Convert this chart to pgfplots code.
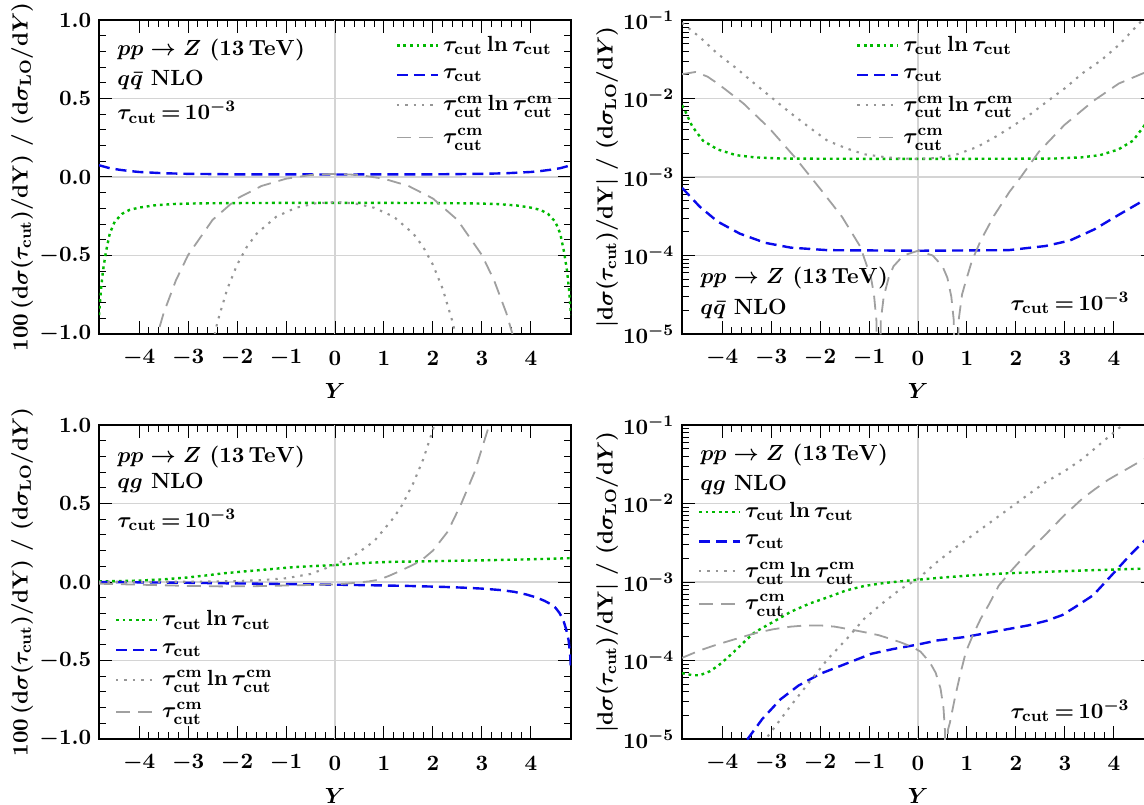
\documentclass[border=0pt]{standalone}
\usepackage{pgfplots}
\pgfplotsset{compat=1.18}
\definecolor{cgreen}{RGB}{0,185,0}
\definecolor{cblue}{RGB}{10,10,235}
\definecolor{cgdot}{RGB}{150,150,150}
\definecolor{cgdash}{RGB}{160,160,160}
\newcommand{\tc}{\tau_{\mathrm{cut}}}
\newcommand{\tcm}{\tau^{\mathrm{cm}}_{\mathrm{cut}}}

\pgfplotsset{
  panel/.style={
    scale only axis, width=236pt, height=157pt,
    xmin=-4.82, xmax=4.82,
    xtick={-4,-3,-2,-1,0,1,2,3,4}, minor x tick num=4,
    major tick length=6.5pt, minor tick length=3.5pt,
    every tick/.style={black, line width=0.5pt},
    axis line style={line width=0.6pt},
    ymajorgrids, major grid style={black!17, line width=0.6pt},
    extra x ticks={0}, extra x tick labels={}, extra x tick style={grid=major},
    xticklabel style={anchor=center, yshift=-12pt},
    xlabel={$Y$},
    xlabel style={at={(axis description cs:0.5,-0.182)}, anchor=center},
    legend style={draw=none, fill=none, row sep=3pt},
    legend cell align=left,
    legend image code/.code={\draw[##1] (0cm,0cm) -- (0.72cm,0cm);},
  },
  linpanel/.style={panel,
    ymin=-1, ymax=1, ytick={-1,-0.5,0,0.5,1}, minor y tick num=4,
    yticklabel style={/pgf/number format/fixed, /pgf/number format/fixed zerofill, /pgf/number format/precision=1},
    ylabel={$100\,(\mathrm{d}\sigma(\tc)/\mathrm{dY})\ /\ (\mathrm{d}\sigma_{\mathrm{LO}}/\mathrm{d}Y)$},
    ylabel style={at={(axis description cs:-0.163,0.5)}, anchor=center},
  },
  logpanel/.style={panel,
    ymin=1e-5, ymax=1e-1, ytick={1e-5,1e-4,1e-3,1e-2,1e-1},
    ylabel={$\bigl|\mathrm{d}\sigma(\tc)/\mathrm{dY}\bigr|\ /\ (\mathrm{d}\sigma_{\mathrm{LO}}/\mathrm{d}Y)$},
    ylabel style={at={(axis description cs:-0.159,0.5)}, anchor=center},
  },
  sgreen/.style={cgreen, line width=1.2pt, dash pattern=on 1.4pt off 1.9pt},
  sblue/.style={cblue, line width=1.2pt, dash pattern=on 5.5pt off 3pt},
  sgdot/.style={cgdot, line width=1.05pt, dash pattern=on 1.2pt off 3pt},
  sgdash/.style={cgdash, line width=0.9pt, dash pattern=on 7pt off 4pt},
}

\begin{document}
\fontsize{11}{13}\selectfont\boldmath\bfseries
\begin{tikzpicture}
\useasboundingbox (0,0) rectangle (572pt,402pt);

% ---------- top left: q qbar, linear
\begin{axis}[linpanel, at={(49.5pt,235pt)}, anchor=south west,
  legend style={at={(axis description cs:0.615,0.975)}, anchor=north west}]
\addplot[sgreen] coordinates {(-4.82,-0.88) (-4.78,-0.72) (-4.74,-0.6) (-4.68,-0.48) (-4.6,-0.36) (-4.5,-0.285) (-4.35,-0.235) (-4.2,-0.21) (-4.0,-0.195) (-3.7,-0.181) (-3.3,-0.172) (-2.8,-0.168) (-2,-0.166) (-1,-0.165) (0,-0.165) (1,-0.165) (2,-0.166) (2.8,-0.168) (3.3,-0.172) (3.7,-0.181) (4.0,-0.195) (4.2,-0.21) (4.35,-0.235) (4.5,-0.285) (4.6,-0.36) (4.68,-0.48) (4.74,-0.6) (4.78,-0.72) (4.82,-0.88)};
\addplot[sblue] coordinates {(-4.82,0.075) (-4.6,0.056) (-4.4,0.046) (-4.2,0.038) (-4.0,0.032) (-3.5,0.024) (-3.0,0.02) (-2.0,0.017) (0,0.016) (2.0,0.017) (3.0,0.02) (3.5,0.024) (4.0,0.032) (4.2,0.038) (4.4,0.046) (4.6,0.056) (4.82,0.075)};
\addplot[sgdot] coordinates {(-2.8,-1.583) (-2.6,-1.203) (-2.4,-0.922) (-2.2,-0.713) (-2.0,-0.559) (-1.8,-0.445) (-1.6,-0.361) (-1.2,-0.253) (-0.8,-0.196) (-0.4,-0.168) (0,-0.16) (0.4,-0.168) (0.8,-0.196) (1.2,-0.253) (1.6,-0.361) (1.8,-0.445) (2.0,-0.559) (2.2,-0.713) (2.4,-0.922) (2.6,-1.203) (2.8,-1.583)};
\addplot[sgdash] coordinates {(-4.0,-1.5) (-3.75,-1.135) (-3.5,-0.867) (-3.25,-0.659) (-3.0,-0.497) (-2.5,-0.273) (-2.0,-0.137) (-1.5,-0.057) (-1.0,-0.011) (-0.5,0.0127) (0,0.02) (0.5,0.0127) (1.0,-0.011) (1.5,-0.057) (2.0,-0.137) (2.5,-0.273) (3.0,-0.497) (3.25,-0.659) (3.5,-0.867) (3.75,-1.135) (4.0,-1.5)};
\legend{$\tc\ln\tc$, $\tc$, $\tcm\ln\tcm$, $\tcm$}
\node[anchor=west, inner sep=0pt] at (rel axis cs:0.038,0.904) {$pp\to Z\ (13\,\mathrm{TeV})$};
\node[anchor=west, inner sep=0pt] at (rel axis cs:0.038,0.808) {$q\bar{q}$ NLO};
\node[anchor=west, inner sep=0pt] at (rel axis cs:0.038,0.706) {$\tc\,{=}\,10^{-3}$};
\end{axis}

% ---------- top right: q qbar, log
\begin{semilogyaxis}[logpanel, at={(341pt,235pt)}, anchor=south west,
  legend style={at={(axis description cs:0.355,0.975)}, anchor=north west}]
\addplot[sgreen] coordinates {(-4.82,8.2e-3) (-4.75,6.8e-3) (-4.61,4.4e-3) (-4.39,2.9e-3) (-4.09,2.24e-3) (-3.72,1.9e-3) (-3.34,1.78e-3) (-2.8,1.72e-3) (-2,1.71e-3) (0,1.7e-3) (2,1.71e-3) (2.8,1.72e-3) (3.34,1.78e-3) (3.72,1.9e-3) (4.09,2.24e-3) (4.39,2.9e-3) (4.61,4.4e-3) (4.75,6.8e-3) (4.82,8.2e-3)};
\addplot[sblue] coordinates {(-4.82,7.3e-4) (-4.46,4.2e-4) (-4.09,2.7e-4) (-3.64,1.9e-4) (-3.12,1.45e-4) (-2.6,1.26e-4) (-1.85,1.17e-4) (0,1.15e-4) (1.85,1.17e-4) (2.6,1.32e-4) (3.1,1.55e-4) (3.6,2.15e-4) (4.1,3.3e-4) (4.6,5.0e-4) (4.82,6.2e-4)};
\addplot[sgdot] coordinates {(-4.82,0.092) (-4.45,0.06) (-4.09,0.037) (-3.7,0.024) (-3.34,0.0155) (-2.95,0.0098) (-2.6,6.5e-3) (-2.2,4.2e-3) (-1.85,2.9e-3) (-1.45,2.3e-3) (-1.1,1.95e-3) (-0.7,1.8e-3) (-0.36,1.72e-3) (0,1.7e-3) (0.4,1.75e-3) (0.8,1.95e-3) (1.2,2.4e-3) (1.6,3.3e-3) (1.87,4.2e-3) (2.25,6e-3) (2.62,9e-3) (3.0,0.0135) (3.36,0.021) (3.75,0.031) (4.1,0.048) (4.55,0.095) (4.82,0.14)};
\addplot[sgdash] coordinates {(-4.82,0.0204) (-4.54,0.0218) (-4.3,0.019) (-4.09,0.0155) (-3.57,8.7e-3) (-3.04,4.2e-3) (-2.52,1.8e-3) (-2.0,7.1e-4) (-1.55,3.1e-4) (-1.18,1.3e-4) (-0.96,5.2e-5) (-0.9,3.2e-5) (-0.85,1.5e-5) (-0.81,1e-7) (-0.76,1.5e-5) (-0.7,3e-5) (-0.6,5.2e-5) (-0.5,7.3e-5) (-0.3,1.0e-4) (0,1.15e-4) (0.3,1.0e-4) (0.5,7.3e-5) (0.6,5.2e-5) (0.68,3e-5) (0.73,1.5e-5) (0.78,1e-7) (0.83,1.5e-5) (0.9,3.2e-5) (0.98,4.8e-5) (1.1,8.5e-5) (1.28,1.55e-4) (1.55,3.2e-4) (1.87,6.5e-4) (2.1,1.0e-3) (2.47,2.1e-3) (2.99,4.6e-3) (3.58,9.3e-3) (4.1,0.0155) (4.6,0.021) (4.82,0.0225)};
\legend{$\tc\ln\tc$, $\tc$, $\tcm\ln\tcm$, $\tcm$}
\node[anchor=west, inner sep=0pt] at (rel axis cs:0.038,0.179) {$pp\to Z\ (13\,\mathrm{TeV})$};
\node[anchor=west, inner sep=0pt] at (rel axis cs:0.038,0.08) {$q\bar{q}$ NLO};
\node[anchor=east, inner sep=0pt] at (rel axis cs:0.949,0.1) {$\tc\,{=}\,10^{-3}$};
\end{semilogyaxis}

% ---------- bottom left: qg, linear
\begin{axis}[linpanel, at={(49.5pt,32.5pt)}, anchor=south west,
  legend style={at={(axis description cs:0.02,0.03)}, anchor=south west}]
\addplot[sgreen] coordinates {(-4.82,0.004) (-4.4,0.006) (-4.0,0.009) (-3.5,0.017) (-3.04,0.028) (-2.6,0.043) (-2.29,0.055) (-1.9,0.066) (-1.53,0.076) (-1.1,0.088) (-0.78,0.096) (-0.4,0.102) (0,0.108) (0.4,0.117) (0.73,0.123) (1.1,0.128) (1.49,0.13) (2.24,0.134) (3,0.138) (3.75,0.143) (4.3,0.147) (4.82,0.152)};
\addplot[sblue] coordinates {(-4.82,0.0) (-4,-0.002) (-3,-0.005) (-2.29,-0.008) (-1,-0.013) (0,-0.017) (0.8,-0.021) (1.49,-0.025) (2.2,-0.031) (2.62,-0.036) (3.0,-0.042) (3.37,-0.051) (3.65,-0.062) (3.9,-0.079) (4.1,-0.097) (4.28,-0.12) (4.4,-0.14) (4.5,-0.163) (4.58,-0.195) (4.66,-0.24) (4.72,-0.3) (4.77,-0.37) (4.8,-0.45) (4.82,-0.56)};
\addplot[sgdot] coordinates {(-4.82,0.0002) (-4,0.0006) (-3.5,0.0012) (-3.0,0.002) (-2.5,0.0035) (-2.0,0.0062) (-1.5,0.012) (-1.0,0.024) (-0.5,0.051) (0,0.11) (0.4,0.17) (0.8,0.26) (1.2,0.41) (1.37,0.49) (1.6,0.63) (1.8,0.78) (2.0,0.97) (2.2,1.22)};
\addplot[sgdash] coordinates {(-4.82,-0.011) (-4.4,-0.014) (-4,-0.017) (-3.5,-0.021) (-3,-0.025) (-2.3,-0.028) (-1.7,-0.027) (-1.1,-0.023) (-0.5,-0.019) (0,-0.015) (0.25,-0.0095) (0.45,-0.0045) (0.57,0) (0.7,0.004) (0.9,0.015) (1.11,0.04) (1.4,0.08) (1.75,0.134) (2.0,0.2) (2.3,0.32) (2.58,0.5) (2.85,0.7) (3.15,1.0) (3.4,1.35)};
\legend{$\tc\ln\tc$, $\tc$, $\tcm\ln\tcm$, $\tcm$}
\node[anchor=west, inner sep=0pt] at (rel axis cs:0.038,0.898) {$pp\to Z\ (13\,\mathrm{TeV})$};
\node[anchor=west, inner sep=0pt] at (rel axis cs:0.038,0.815) {$qg$ NLO};
\node[anchor=west, inner sep=0pt] at (rel axis cs:0.038,0.698) {$\tc\,{=}\,10^{-3}$};
\end{axis}

% ---------- bottom right: qg, log
\begin{semilogyaxis}[logpanel, at={(341pt,32.5pt)}, anchor=south west,
  legend style={at={(axis description cs:0.02,0.78)}, anchor=north west}]
\addplot[sgreen] coordinates {(-4.82,6.9e-5) (-4.6,6.5e-5) (-4.45,6.5e-5) (-4.25,7.3e-5) (-4.07,8.7e-5) (-3.88,1.1e-4) (-3.70,1.4e-4) (-3.5,1.85e-4) (-3.33,2.3e-4) (-2.96,3.1e-4) (-2.59,4.2e-4) (-2.22,5.3e-4) (-1.84,6.4e-4) (-1.47,7.8e-4) (-1.1,8.9e-4) (-0.7,9.7e-4) (-0.36,1.02e-3) (0,1.07e-3) (0.5,1.14e-3) (1.13,1.22e-3) (1.8,1.29e-3) (2.62,1.35e-3) (3.5,1.41e-3) (4.6,1.48e-3) (4.82,1.5e-3)};
\addplot[sblue] coordinates {(-4.82,2e-6) (-4.2,4e-6) (-3.8,7e-6) (-3.48,1.0e-5) (-3.18,1.8e-5) (-2.81,3.2e-5) (-2.44,4.8e-5) (-1.99,6.8e-5) (-1.47,9.1e-5) (-0.95,1.22e-4) (-0.51,1.4e-4) (0,1.6e-4) (0.39,1.8e-4) (0.98,2.0e-4) (1.5,2.3e-4) (2.25,2.8e-4) (2.62,3.2e-4) (2.95,3.8e-4) (3.21,4.8e-4) (3.58,6.8e-4) (3.96,1.23e-3) (4.33,2.2e-3) (4.59,3.2e-3) (4.82,4.5e-3)};
\addplot[sgdot] coordinates {(-4.82,1.5e-6) (-4,3.5e-6) (-3.4,6.5e-6) (-3.11,1e-5) (-2.59,2.7e-5) (-2.2,5.5e-5) (-1.84,1.05e-4) (-1.45,1.9e-4) (-1.1,3.4e-4) (-0.72,5.4e-4) (-0.36,8.1e-4) (0,1.1e-3) (0.39,1.8e-3) (0.75,2.7e-3) (1.13,4e-3) (1.5,5.9e-3) (1.87,8.7e-3) (2.25,0.013) (2.62,0.019) (3.0,0.026) (3.36,0.037) (3.73,0.058) (4.1,0.091) (4.5,0.14) (4.82,0.19)};
\addplot[sgdash] coordinates {(-4.82,1.08e-4) (-4.45,1.35e-4) (-4.1,1.6e-4) (-3.7,1.9e-4) (-3.3,2.25e-4) (-2.96,2.5e-4) (-2.6,2.7e-4) (-2.29,2.8e-4) (-2.0,2.8e-4) (-1.7,2.7e-4) (-1.4,2.5e-4) (-1.1,2.3e-4) (-0.8,2.1e-4) (-0.58,1.9e-4) (-0.35,1.7e-4) (-0.13,1.5e-4) (0.05,1.3e-4) (0.24,9.5e-5) (0.36,7e-5) (0.46,4.4e-5) (0.52,2.5e-5) (0.55,1.3e-5) (0.58,1e-7) (0.61,1.3e-5) (0.65,1.6e-5) (0.76,3.5e-5) (0.87,7e-5) (0.98,1.3e-4) (1.12,2.1e-4) (1.28,3.4e-4) (1.45,5.2e-4) (1.65,9e-4) (1.95,1.5e-3) (2.25,2.4e-3) (2.6,4.0e-3) (2.99,7.1e-3) (3.36,0.0116) (3.6,0.015) (3.88,0.02) (4.1,0.024) (4.33,0.029) (4.59,0.036) (4.82,0.041)};
\legend{$\tc\ln\tc$, $\tc$, $\tcm\ln\tcm$, $\tcm$}
\node[anchor=west, inner sep=0pt] at (rel axis cs:0.038,0.904) {$pp\to Z\ (13\,\mathrm{TeV})$};
\node[anchor=west, inner sep=0pt] at (rel axis cs:0.038,0.81) {$qg$ NLO};
\node[anchor=east, inner sep=0pt] at (rel axis cs:0.949,0.089) {$\tc\,{=}\,10^{-3}$};
\end{semilogyaxis}
\end{tikzpicture}
\end{document}
